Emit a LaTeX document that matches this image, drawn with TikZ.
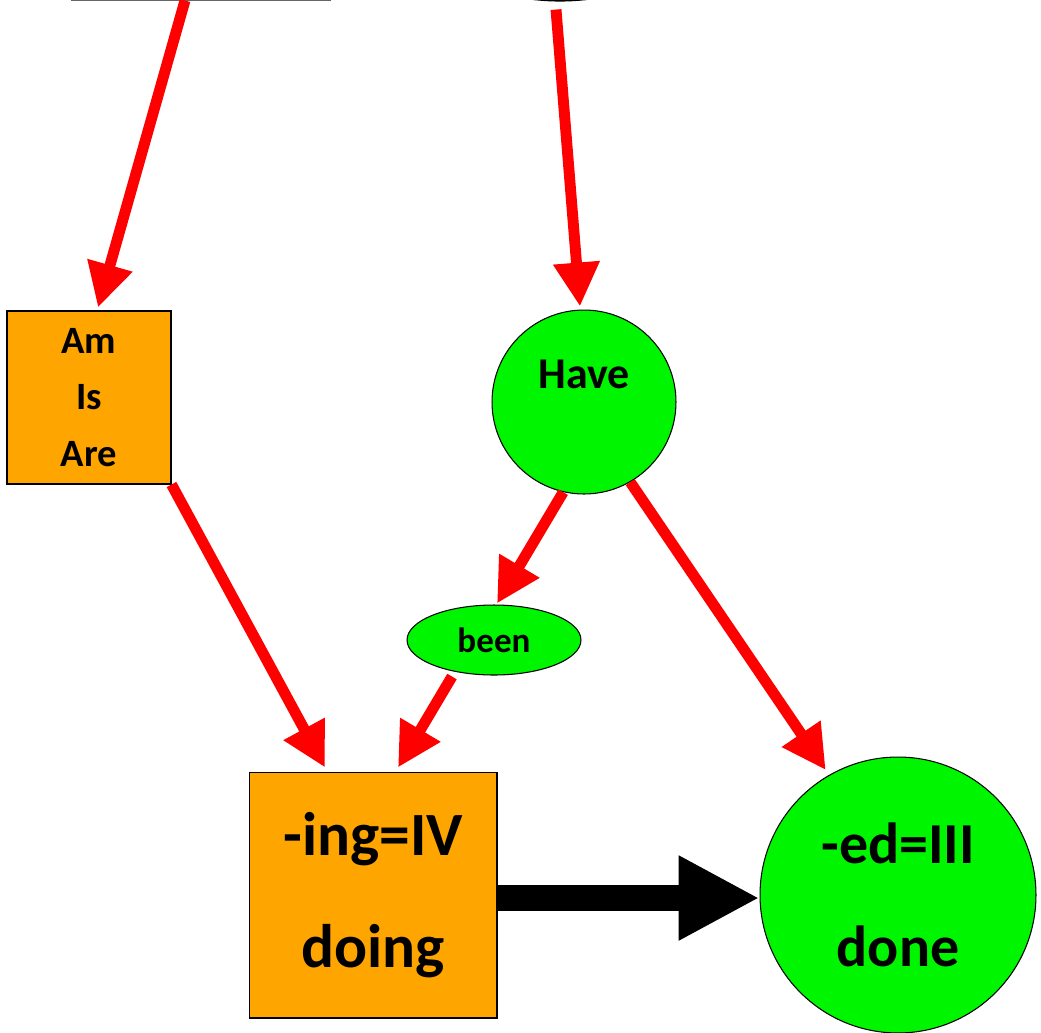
\documentclass[tikz,border=0pt]{standalone}
\usepackage{fontspec}
\setmainfont{Carlito}
\usetikzlibrary{calc,shapes.geometric,arrows.meta}
\definecolor{boxorange}{RGB}{255,165,0}
\definecolor{blobgreen}{RGB}{0,245,0}

\begin{document}
\begin{tikzpicture}[x=0.02cm,y=-0.02cm,font=\bfseries,
  verbbox/.style={draw=black,fill=boxorange,line width=0.6pt,inner sep=0pt,align=center},
  verbblob/.style={draw=black,fill=blobgreen,line width=0.6pt,inner sep=0pt,align=center},
  redarrow/.style={draw=red,line width=6.2pt,-{Triangle[length=25pt,width=25pt]}},
  bigarrow/.style={draw=black,line width=15.3pt,-{Triangle[length=46pt,width=45pt]}}]

\useasboundingbox (0,0) rectangle (1041,1032);
\clip (0,0) rectangle (1041,1032);

% shapes cut off at the top
\node[draw=gray!80!black,fill=white,line width=0.6pt,minimum width=5.16cm,minimum height=2cm] (tense) at (201,-50) {};
\node[verbblob,ellipse,line width=1.2pt,minimum width=4cm,minimum height=1.68cm] (perfect) at (560,-41.5) {};

\node[verbbox,minimum width=3.28cm,minimum height=3.46cm,font=\bfseries\fontsize{22}{32}\selectfont] (be) at (89,397.5) {Am\\Is\\Are};
\node[verbblob,circle,minimum size=3.68cm,text depth=32pt,font=\bfseries\fontsize{25}{30}\selectfont] (have) at (584,402) {Have};
\node[verbblob,ellipse,minimum width=3.48cm,minimum height=1.4cm,font=\bfseries\fontsize{20}{24}\selectfont] (been) at (494,640) {been};
\node[verbbox,minimum width=4.96cm,minimum height=4.92cm,font=\bfseries\fontsize{35}{64}\selectfont] (ing) at (373,895) {-ing=IV\\doing};
\node[verbblob,circle,minimum size=5.52cm,font=\bfseries\fontsize{33}{59}\selectfont] (done) at (898,895) {-ed=III\\done};

\draw[redarrow] ($(tense.south)+(-16,0)$) -- ($(be.north)+(9,-3)$);
\draw[redarrow] ($(perfect.south)+(-4,8)$) -- ($(have.north)+(-4,-3)$);
\draw[redarrow] (be.south east) -- ($(ing.north)+(-48,-4)$);
\draw[redarrow] (have.257) -- ($(been.north)+(3,-1)$);
\draw[redarrow] (have.300) -- ($(done.120)+(-3,-5)$);
\draw[redarrow] ($(been.south)+(-42,1)$) -- ($(ing.north)+(25,-4)$);
\draw[bigarrow] ($(ing.east)+(0,3)$) -- ($(done.west)+(0,3)$);

\end{tikzpicture}
\end{document}
